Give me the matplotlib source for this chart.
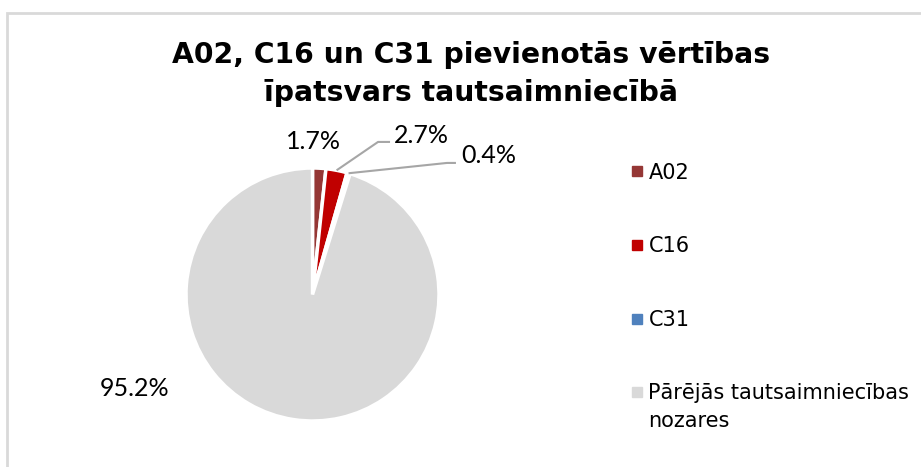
import matplotlib
matplotlib.use("Agg")
import matplotlib.pyplot as plt
from matplotlib.lines import Line2D
from matplotlib.patches import Rectangle
import numpy as np

categories = ["A02", "C16", "C31", "Pārējās tautsaimniecības\nnozares"]
values = [1.7, 2.7, 0.4, 95.2]
colors = ["#953735", "#C00000", "#4F81BD", "#D9D9D9"]
title = "A02, C16 un C31 pievienotās vērtības\nīpatsvars tautsaimniecībā"

W, H = 921, 467
fig = plt.figure(figsize=(W / 100, H / 100), dpi=100)

# outer chart border
fig.patches.append(Rectangle((7 / W, -0.01), 1.0, 1 - 12.5 / H + 0.01, transform=fig.transFigure,
                             fill=False, edgecolor="#D9D9D9", linewidth=2, zorder=0))

cx, cy, r = 312.5, 294.5, 126.5
ax = fig.add_axes([(cx - r) / W, (H - cy - r) / H, 2 * r / W, 2 * r / H])
wedges, _ = ax.pie(values, colors=colors, startangle=90, counterclock=False,
                   radius=1.0, wedgeprops=dict(edgecolor="white", linewidth=2.5))
ax.set_xlim(-1, 1)
ax.set_ylim(-1, 1)
ax.set_aspect("equal")
ax.axis("off")

def anchor(w):
    th = np.deg2rad((w.theta1 + w.theta2) / 2)
    return np.cos(th) * w.r, np.sin(th) * w.r

lab_font = dict(family="Lato", fontsize=18, color="black", ha="center", va="center")
labels = [f"{v:.1f}%" for v in values]
# label positions (axes data units)
pos = [(0.004, 1.21), (0.86, 1.26), (1.39, 1.10), (-1.41, -0.74)]
elbow = [None, ((0.518, 1.206), (0.613, 1.206)), ((1.063, 1.04), (1.134, 1.04)), None]
for w, lab, p, e in zip(wedges, labels, pos, elbow):
    ax.text(p[0], p[1], lab, clip_on=False, **lab_font)
    if e is not None:
        a = anchor(w)
        xs = [a[0], e[0][0], e[1][0]]
        ys = [a[1], e[0][1], e[1][1]]
        ax.plot(xs, ys, color="#A6A6A6", linewidth=1.5, clip_on=False, solid_capstyle="butt")

fig.text(471 / W, 1 - 74 / H, title, ha="center", va="center", fontsize=20.3,
         fontweight="bold", family="DejaVu Sans", linespacing=1.48)

# legend: first line of each label in the legend, continuation lines below it
first_lines = [c.split("\n")[0] for c in categories]
handles = [Line2D([], [], marker="s", linestyle="", color=c, markersize=6.5) for c in colors]
leg_fs = 15
leg = fig.legend(handles, first_lines, loc="upper left", bbox_to_anchor=(613 / W, 1 - 144 / H),
                 frameon=False, labelspacing=2.57, handlelength=0.5, borderpad=0.4,
                 handletextpad=0.3, prop=dict(family="DejaVu Sans", size=leg_fs))
fig.canvas.draw()
for txt, full in zip(leg.get_texts(), categories):
    rest = full.split("\n")[1:]
    if rest:
        bb = txt.get_window_extent()
        fig.text(bb.x0 / W, (bb.y0 - 8) / H, "\n".join(rest), ha="left", va="top",
                 family="DejaVu Sans", fontsize=leg_fs)

fig.savefig("out.png", dpi=100, facecolor="white")
